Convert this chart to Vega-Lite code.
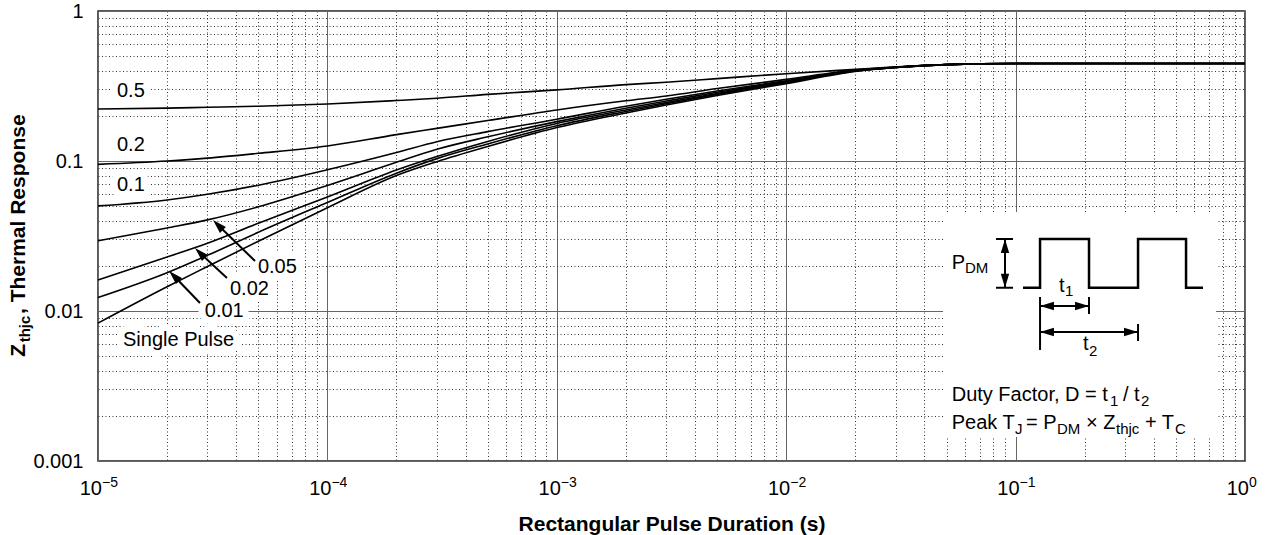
{
  "$schema": "https://vega.github.io/schema/vega-lite/v6.json",
  "width": 1147,
  "height": 450,
  "autosize": {"type": "none"},
  "padding": {"left": 98, "top": 11, "right": 30, "bottom": 74},
  "background": "white",
  "config": {
    "view": {"stroke": "#222", "strokeWidth": 1.5},
    "font": "Liberation Sans",
    "text": {"font": "Liberation Sans"}
  },
  "datasets": {
    "curves": [
      {"curve": "0.5", "t": 0.00001, "z": 0.222}, {"curve": "0.5", "t": 0.00002, "z": 0.225}, {"curve": "0.5", "t": 0.00003, "z": 0.228}, {"curve": "0.5", "t": 0.00005, "z": 0.232}, {"curve": "0.5", "t": 0.0001, "z": 0.240}, {"curve": "0.5", "t": 0.0002, "z": 0.253}, {"curve": "0.5", "t": 0.0003, "z": 0.262}, {"curve": "0.5", "t": 0.0005, "z": 0.278}, {"curve": "0.5", "t": 0.001, "z": 0.298}, {"curve": "0.5", "t": 0.002, "z": 0.323}, {"curve": "0.5", "t": 0.003, "z": 0.335}, {"curve": "0.5", "t": 0.005, "z": 0.354}, {"curve": "0.5", "t": 0.01, "z": 0.382}, {"curve": "0.5", "t": 0.02, "z": 0.408}, {"curve": "0.5", "t": 0.03, "z": 0.424}, {"curve": "0.5", "t": 0.05, "z": 0.440}, {"curve": "0.5", "t": 0.1, "z": 0.447}, {"curve": "0.5", "t": 1, "z": 0.447},
      {"curve": "0.2", "t": 0.00001, "z": 0.095}, {"curve": "0.2", "t": 0.00002, "z": 0.100}, {"curve": "0.2", "t": 0.00003, "z": 0.1045}, {"curve": "0.2", "t": 0.00005, "z": 0.1125}, {"curve": "0.2", "t": 0.0001, "z": 0.126}, {"curve": "0.2", "t": 0.0002, "z": 0.150}, {"curve": "0.2", "t": 0.0003, "z": 0.165}, {"curve": "0.2", "t": 0.0005, "z": 0.186}, {"curve": "0.2", "t": 0.001, "z": 0.219}, {"curve": "0.2", "t": 0.002, "z": 0.252}, {"curve": "0.2", "t": 0.003, "z": 0.271}, {"curve": "0.2", "t": 0.005, "z": 0.304}, {"curve": "0.2", "t": 0.01, "z": 0.350}, {"curve": "0.2", "t": 0.02, "z": 0.404}, {"curve": "0.2", "t": 0.03, "z": 0.422}, {"curve": "0.2", "t": 0.05, "z": 0.439}, {"curve": "0.2", "t": 0.1, "z": 0.447}, {"curve": "0.2", "t": 1, "z": 0.447},
      {"curve": "0.1", "t": 0.00001, "z": 0.0502}, {"curve": "0.1", "t": 0.00002, "z": 0.055}, {"curve": "0.1", "t": 0.00003, "z": 0.060}, {"curve": "0.1", "t": 0.00005, "z": 0.069}, {"curve": "0.1", "t": 0.0001, "z": 0.0875}, {"curve": "0.1", "t": 0.0002, "z": 0.114}, {"curve": "0.1", "t": 0.0003, "z": 0.1345}, {"curve": "0.1", "t": 0.0005, "z": 0.157}, {"curve": "0.1", "t": 0.001, "z": 0.190}, {"curve": "0.1", "t": 0.002, "z": 0.232}, {"curve": "0.1", "t": 0.003, "z": 0.258}, {"curve": "0.1", "t": 0.005, "z": 0.293}, {"curve": "0.1", "t": 0.01, "z": 0.343}, {"curve": "0.1", "t": 0.02, "z": 0.401}, {"curve": "0.1", "t": 0.03, "z": 0.421}, {"curve": "0.1", "t": 0.05, "z": 0.439}, {"curve": "0.1", "t": 0.1, "z": 0.447}, {"curve": "0.1", "t": 1, "z": 0.447},
      {"curve": "0.05", "t": 0.00001, "z": 0.0294}, {"curve": "0.05", "t": 0.00002, "z": 0.0358}, {"curve": "0.05", "t": 0.00003, "z": 0.0405}, {"curve": "0.05", "t": 0.00005, "z": 0.0495}, {"curve": "0.05", "t": 0.0001, "z": 0.0687}, {"curve": "0.05", "t": 0.0002, "z": 0.098}, {"curve": "0.05", "t": 0.0003, "z": 0.1197}, {"curve": "0.05", "t": 0.0005, "z": 0.145}, {"curve": "0.05", "t": 0.001, "z": 0.183}, {"curve": "0.05", "t": 0.002, "z": 0.225}, {"curve": "0.05", "t": 0.003, "z": 0.251}, {"curve": "0.05", "t": 0.005, "z": 0.287}, {"curve": "0.05", "t": 0.01, "z": 0.339}, {"curve": "0.05", "t": 0.02, "z": 0.400}, {"curve": "0.05", "t": 0.03, "z": 0.421}, {"curve": "0.05", "t": 0.05, "z": 0.439}, {"curve": "0.05", "t": 0.1, "z": 0.447}, {"curve": "0.05", "t": 1, "z": 0.447},
      {"curve": "0.02", "t": 0.00001, "z": 0.0161}, {"curve": "0.02", "t": 0.00002, "z": 0.0229}, {"curve": "0.02", "t": 0.00003, "z": 0.0283}, {"curve": "0.02", "t": 0.00005, "z": 0.0385}, {"curve": "0.02", "t": 0.0001, "z": 0.0575}, {"curve": "0.02", "t": 0.0002, "z": 0.087}, {"curve": "0.02", "t": 0.0003, "z": 0.107}, {"curve": "0.02", "t": 0.0005, "z": 0.135}, {"curve": "0.02", "t": 0.001, "z": 0.178}, {"curve": "0.02", "t": 0.002, "z": 0.219}, {"curve": "0.02", "t": 0.003, "z": 0.245}, {"curve": "0.02", "t": 0.005, "z": 0.282}, {"curve": "0.02", "t": 0.01, "z": 0.336}, {"curve": "0.02", "t": 0.02, "z": 0.399}, {"curve": "0.02", "t": 0.03, "z": 0.421}, {"curve": "0.02", "t": 0.05, "z": 0.439}, {"curve": "0.02", "t": 0.1, "z": 0.447}, {"curve": "0.02", "t": 1, "z": 0.447},
      {"curve": "0.01", "t": 0.00001, "z": 0.0123}, {"curve": "0.01", "t": 0.00002, "z": 0.0180}, {"curve": "0.01", "t": 0.00003, "z": 0.0235}, {"curve": "0.01", "t": 0.00005, "z": 0.0335}, {"curve": "0.01", "t": 0.0001, "z": 0.0529}, {"curve": "0.01", "t": 0.0002, "z": 0.083}, {"curve": "0.01", "t": 0.0003, "z": 0.1037}, {"curve": "0.01", "t": 0.0005, "z": 0.130}, {"curve": "0.01", "t": 0.001, "z": 0.172}, {"curve": "0.01", "t": 0.002, "z": 0.214}, {"curve": "0.01", "t": 0.003, "z": 0.241}, {"curve": "0.01", "t": 0.005, "z": 0.278}, {"curve": "0.01", "t": 0.01, "z": 0.333}, {"curve": "0.01", "t": 0.02, "z": 0.398}, {"curve": "0.01", "t": 0.03, "z": 0.420}, {"curve": "0.01", "t": 0.05, "z": 0.439}, {"curve": "0.01", "t": 0.1, "z": 0.447}, {"curve": "0.01", "t": 1, "z": 0.447},
      {"curve": "single", "t": 0.00001, "z": 0.0083}, {"curve": "single", "t": 0.00002, "z": 0.0145}, {"curve": "single", "t": 0.00003, "z": 0.0198}, {"curve": "single", "t": 0.00005, "z": 0.0292}, {"curve": "single", "t": 0.0001, "z": 0.0488}, {"curve": "single", "t": 0.0002, "z": 0.080}, {"curve": "single", "t": 0.0003, "z": 0.099}, {"curve": "single", "t": 0.0005, "z": 0.125}, {"curve": "single", "t": 0.001, "z": 0.167}, {"curve": "single", "t": 0.002, "z": 0.209}, {"curve": "single", "t": 0.003, "z": 0.236}, {"curve": "single", "t": 0.005, "z": 0.273}, {"curve": "single", "t": 0.01, "z": 0.328}, {"curve": "single", "t": 0.02, "z": 0.396}, {"curve": "single", "t": 0.03, "z": 0.420}, {"curve": "single", "t": 0.05, "z": 0.439}, {"curve": "single", "t": 0.1, "z": 0.447}, {"curve": "single", "t": 1, "z": 0.447}
    ],
    "labels": [
      {"label": "0.5", "t": 0.0000121, "z": 0.293},
      {"label": "0.2", "t": 0.0000121, "z": 0.128},
      {"label": "0.1", "t": 0.0000121, "z": 0.0692},
      {"label": "0.05", "t": 0.0000498, "z": 0.0198},
      {"label": "0.02", "t": 0.0000376, "z": 0.01402},
      {"label": "0.01", "t": 0.0000292, "z": 0.01},
      {"label": "Single Pulse", "t": 0.00001285, "z": 0.00641}
    ],
    "segs": [
      {"t": 0.00004836, "z": 0.02154, "t2": 0.00003334, "z2": 0.03745},
      {"t": 0.00003649, "z": 0.0166, "t2": 0.00002783, "z2": 0.02436},
      {"t": 0.00002783, "z": 0.0113, "t2": 0.00002145, "z2": 0.01712},
      {"t": 0.0899, "z": 0.0302, "t2": 0.0899, "z2": 0.01429},
      {"t": 0.08214, "z": 0.0302, "t2": 0.09743, "z2": 0.0302},
      {"t": 0.08214, "z": 0.01429, "t2": 0.09743, "z2": 0.01429},
      {"t": 0.12781, "z": 0.0108, "t2": 0.20893, "z2": 0.0108},
      {"t": 0.12781, "z": 0.007244, "t2": 0.34178, "z2": 0.007244},
      {"t": 0.12781, "z": 0.0124, "t2": 0.12781, "z2": 0.0055},
      {"t": 0.20893, "z": 0.0124, "t2": 0.20893, "z2": 0.00955},
      {"t": 0.34178, "z": 0.00819, "t2": 0.34178, "z2": 0.00631}
    ],
    "heads": [
      {"t": 0.00003334, "z": 0.03745, "dir": "upleft"},
      {"t": 0.00002783, "z": 0.02436, "dir": "upleft"},
      {"t": 0.00002145, "z": 0.01712, "dir": "upleft"},
      {"t": 0.0899, "z": 0.02712, "dir": "up"},
      {"t": 0.0899, "z": 0.01592, "dir": "down"},
      {"t": 0.137, "z": 0.0108, "dir": "left"},
      {"t": 0.1948, "z": 0.0108, "dir": "right"},
      {"t": 0.137, "z": 0.007244, "dir": "left"},
      {"t": 0.3184, "z": 0.007244, "dir": "right"}
    ],
    "wave": [
      {"i": 1, "t": 0.10772, "z": 0.01429},
      {"i": 2, "t": 0.12781, "z": 0.01429},
      {"i": 3, "t": 0.12781, "z": 0.0302},
      {"i": 4, "t": 0.20893, "z": 0.0302},
      {"i": 5, "t": 0.20893, "z": 0.01429},
      {"i": 6, "t": 0.34178, "z": 0.01429},
      {"i": 7, "t": 0.34178, "z": 0.0302},
      {"i": 8, "t": 0.55336, "z": 0.0302},
      {"i": 9, "t": 0.55336, "z": 0.01429},
      {"i": 10, "t": 0.65597, "z": 0.01429}
    ],
    "inset": [
      {"t": 0.04827, "t2": 0.7477, "z": 0.04571, "z2": 0.001445}
    ],
    "insetMain": [
      {"label": "P", "t": 0.05265, "z": 0.01897},
      {"label": "t", "t": 0.1546, "z": 0.01345},
      {"label": "t", "t": 0.1967, "z": 0.0055},
      {"label": "Duty Factor, D = t", "t": 0.05265, "z": 0.002531},
      {"label": "/ t", "t": 0.2938, "z": 0.002531},
      {"label": "Peak T", "t": 0.05265, "z": 0.001634},
      {"label": "= P", "t": 0.1110, "z": 0.001634},
      {"label": "× Z", "t": 0.2027, "z": 0.001634},
      {"label": "+ T", "t": 0.3664, "z": 0.001634}
    ],
    "insetSub": [
      {"label": "DM", "t": 0.06017, "z": 0.01783},
      {"label": "1", "t": 0.1642, "z": 0.01259},
      {"label": "2", "t": 0.2089, "z": 0.005012},
      {"label": "1", "t": 0.2579, "z": 0.002344},
      {"label": "2", "t": 0.3521, "z": 0.002344},
      {"label": "J", "t": 0.0994, "z": 0.001502},
      {"label": "DM", "t": 0.1515, "z": 0.001502},
      {"label": "thjc", "t": 0.2740, "z": 0.001502},
      {"label": "C", "t": 0.4953, "z": 0.001502}
    ],
    "xLabels": [
      {"t": 0.00001, "z": 0.000593, "base": "10", "exp": "−5"},
      {"t": 0.0001, "z": 0.000593, "base": "10", "exp": "−4"},
      {"t": 0.001, "z": 0.000593, "base": "10", "exp": "−3"},
      {"t": 0.01, "z": 0.000593, "base": "10", "exp": "−2"},
      {"t": 0.1, "z": 0.000593, "base": "10", "exp": "−1"},
      {"t": 1, "z": 0.000593, "base": "10", "exp": "0"}
    ],
    "yTitleMain": [
      {"label": "Z", "t": 0.000004807, "z": 0.004958},
      {"label": ", Thermal Response", "t": 0.000004807, "z": 0.00955}
    ],
    "yTitleSub": [
      {"label": "thjc", "t": 0.000005053, "z": 0.00618}
    ]
  },
  "encoding": {
    "x": {
      "field": "t",
      "type": "quantitative",
      "scale": {"type": "log", "domain": [0.00001, 1], "nice": false},
      "axis": {
        "title": "Rectangular Pulse Duration (s)",
        "values": [0.00001, 0.00002, 0.00003, 0.00004, 0.00005, 0.00006, 0.00007, 0.00008, 0.00009, 0.0001, 0.0002, 0.0003, 0.0004, 0.0005, 0.0006, 0.0007, 0.0008, 0.0009, 0.001, 0.002, 0.003, 0.004, 0.005, 0.006, 0.007, 0.008, 0.009, 0.01, 0.02, 0.03, 0.04, 0.05, 0.06, 0.07, 0.08, 0.09, 0.1, 0.2, 0.3, 0.4, 0.5, 0.6, 0.7, 0.8, 0.9, 1],
        "ticks": false,
        "domain": false,
        "labels": false,
        "grid": true,
        "gridWidth": 1,
        "gridColor": {"condition": {"test": "abs(log(datum.value)/LN10 - round(log(datum.value)/LN10)) < 0.001", "value": "#666666"}, "value": "#333333"},
        "gridDash": {"condition": {"test": "abs(log(datum.value)/LN10 - round(log(datum.value)/LN10)) < 0.001", "value": []}, "value": [1, 2.5]},
        "titleFont": "Liberation Sans",
        "titleFontSize": 21,
        "titleFontWeight": "bold",
        "titleColor": "#000000",
        "titlePadding": 52
      }
    },
    "y": {
      "field": "z",
      "type": "quantitative",
      "scale": {"type": "log", "domain": [0.001, 1], "nice": false},
      "axis": {
        "title": null,
        "values": [0.001, 0.002, 0.003, 0.004, 0.005, 0.006, 0.007, 0.008, 0.009, 0.01, 0.02, 0.03, 0.04, 0.05, 0.06, 0.07, 0.08, 0.09, 0.1, 0.2, 0.3, 0.4, 0.5, 0.6, 0.7, 0.8, 0.9, 1],
        "ticks": false,
        "domain": false,
        "grid": true,
        "gridWidth": 1,
        "gridColor": {"condition": {"test": "abs(log(datum.value)/LN10 - round(log(datum.value)/LN10)) < 0.001", "value": "#666666"}, "value": "#333333"},
        "gridDash": {"condition": {"test": "abs(log(datum.value)/LN10 - round(log(datum.value)/LN10)) < 0.001", "value": []}, "value": [1, 2.5]},
        "labelExpr": "abs(log(datum.value)/LN10 - round(log(datum.value)/LN10)) > 0.001 ? '' : ['0.001','0.01','0.1','1'][round(log(datum.value)/LN10) + 3]",
        "labelFlush": false,
        "labelOverlap": false,
        "labelFont": "Liberation Sans",
        "labelFontSize": 20,
        "labelColor": "#000000",
        "labelPadding": 15
      }
    }
  },
  "layer": [
    {
      "data": {"name": "inset"},
      "mark": {"type": "rect", "fill": "white", "strokeWidth": 0},
      "encoding": {"x2": {"field": "t2"}, "y2": {"field": "z2"}}
    },
    {
      "data": {"name": "curves"},
      "mark": {"type": "line", "color": "black", "strokeWidth": 1.6, "interpolate": "monotone"},
      "encoding": {"detail": {"field": "curve", "type": "nominal"}}
    },
    {
      "data": {"name": "labels"},
      "mark": {"type": "text", "align": "left", "baseline": "middle", "fontSize": 20, "fill": "white", "stroke": "white", "strokeWidth": 14, "strokeJoin": "round"},
      "encoding": {"text": {"field": "label"}}
    },
    {
      "data": {"name": "labels"},
      "mark": {"type": "text", "align": "left", "baseline": "middle", "fontSize": 20, "color": "black"},
      "encoding": {"text": {"field": "label"}}
    },
    {
      "data": {"name": "segs"},
      "mark": {"type": "rule", "color": "black", "strokeWidth": 2},
      "encoding": {"x2": {"field": "t2"}, "y2": {"field": "z2"}}
    },
    {
      "data": {"name": "heads"},
      "transform": [{"filter": "datum.dir === 'upleft'"}],
      "mark": {"type": "point", "filled": true, "color": "black", "opacity": 1, "shape": "M0,-1L0.6,1L-0.6,1Z", "size": 196, "angle": 315}
    },
    {
      "data": {"name": "heads"},
      "transform": [{"filter": "datum.dir === 'up'"}],
      "mark": {"type": "point", "filled": true, "color": "black", "opacity": 1, "shape": "M0,-1L0.6,1L-0.6,1Z", "size": 196, "angle": 0}
    },
    {
      "data": {"name": "heads"},
      "transform": [{"filter": "datum.dir === 'down'"}],
      "mark": {"type": "point", "filled": true, "color": "black", "opacity": 1, "shape": "M0,-1L0.6,1L-0.6,1Z", "size": 196, "angle": 180}
    },
    {
      "data": {"name": "heads"},
      "transform": [{"filter": "datum.dir === 'left'"}],
      "mark": {"type": "point", "filled": true, "color": "black", "opacity": 1, "shape": "M0,-1L0.6,1L-0.6,1Z", "size": 196, "angle": 270}
    },
    {
      "data": {"name": "heads"},
      "transform": [{"filter": "datum.dir === 'right'"}],
      "mark": {"type": "point", "filled": true, "color": "black", "opacity": 1, "shape": "M0,-1L0.6,1L-0.6,1Z", "size": 196, "angle": 90}
    },
    {
      "data": {"name": "wave"},
      "mark": {"type": "line", "color": "black", "strokeWidth": 2.5, "strokeJoin": "miter"},
      "encoding": {"order": {"field": "i", "type": "quantitative"}}
    },
    {
      "data": {"name": "insetMain"},
      "mark": {"type": "text", "align": "left", "baseline": "alphabetic", "fontSize": 20, "color": "black"},
      "encoding": {"text": {"field": "label"}}
    },
    {
      "data": {"name": "insetSub"},
      "mark": {"type": "text", "align": "left", "baseline": "alphabetic", "fontSize": 15, "color": "black"},
      "encoding": {"text": {"field": "label"}}
    },
    {
      "data": {"name": "xLabels"},
      "mark": {"type": "text", "align": "right", "baseline": "alphabetic", "dx": 4, "fontSize": 20, "color": "black"},
      "encoding": {"text": {"field": "base"}}
    },
    {
      "data": {"name": "xLabels"},
      "mark": {"type": "text", "align": "left", "baseline": "alphabetic", "dx": 4, "dy": -8, "fontSize": 14, "color": "black"},
      "encoding": {"text": {"field": "exp"}}
    },
    {
      "data": {"name": "yTitleMain"},
      "mark": {"type": "text", "align": "left", "baseline": "alphabetic", "angle": 270, "fontSize": 21, "fontWeight": "bold", "color": "black"},
      "encoding": {"text": {"field": "label"}}
    },
    {
      "data": {"name": "yTitleSub"},
      "mark": {"type": "text", "align": "left", "baseline": "alphabetic", "angle": 270, "fontSize": 15, "fontWeight": "bold", "color": "black"},
      "encoding": {"text": {"field": "label"}}
    }
  ]
}
